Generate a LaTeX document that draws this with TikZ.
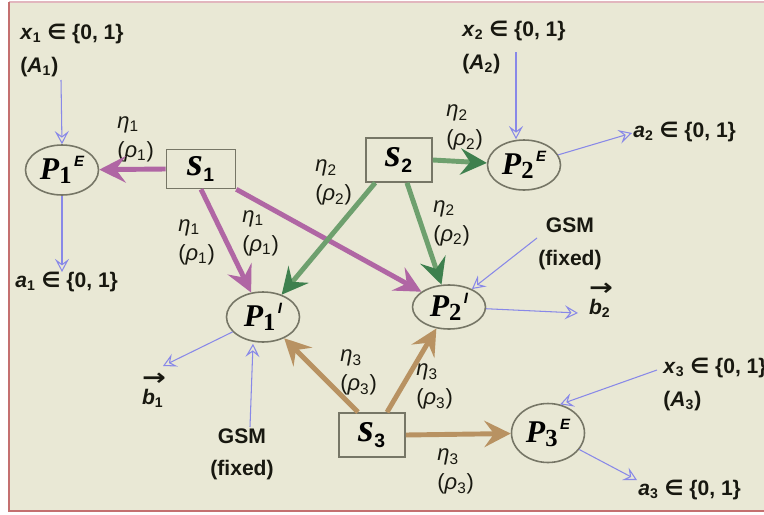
\documentclass[tikz,border=0pt]{standalone}
\usepackage{fontspec}
\setmainfont{Liberation Sans}
\newfontfamily\pfont{Liberation Serif}
\newfontfamily\dejavu{DejaVu Sans}
\usepackage{tikz}
\usetikzlibrary{shapes.geometric, arrows.meta, positioning, calc}

\definecolor{bgbeige}{RGB}{233,232,213}
\definecolor{frameline}{RGB}{196,112,112}
\definecolor{frametop}{RGB}{226,182,190}
\definecolor{sonepurple}{RGB}{176,102,164}
\definecolor{stwogreen}{RGB}{110,160,110}
\definecolor{stwodark}{RGB}{62,128,78}
\definecolor{sthreetan}{RGB}{184,146,98}
\definecolor{inblue}{RGB}{136,136,232}
\definecolor{shapeline}{RGB}{118,118,102}
\definecolor{textdark}{RGB}{24,24,16}

\newcommand{\pname}[2]{{\pfont\bfseries\itshape\fontsize{18}{18}\selectfont P}\raisebox{-2.5pt}{\pfont\bfseries\fontsize{14}{14}\selectfont #1}\raisebox{7.5pt}{\bfseries\itshape\fontsize{8.5}{8.5}\selectfont\,#2}}
\newcommand{\sname}[1]{{\pfont\bfseries\itshape\fontsize{23}{23}\selectfont s}\raisebox{-3pt}{\bfseries\fontsize{11}{11}\selectfont #1}}
\newcommand{\etarho}[1]{\textit{η}\textsubscript{#1}\\(\textit{ρ}\textsubscript{#1})}
\newcommand{\bvec}[1]{{\dejavu\bfseries\scalebox{1.35}[1.1]{→}}\\\textit{b}\textsubscript{#1}}
\newcommand{\elem}{{\dejavu ∈}}

\begin{document}
\begin{tikzpicture}[
        x=0.02cm, y=-0.02cm,
        box/.style={
            draw=shapeline,
            line width=0.9pt,
            rectangle,
            minimum width=1.32cm,
            minimum height=0.88cm,
            inner sep=0pt
        },
        pnode/.style={
            draw=shapeline,
            line width=0.9pt,
            ellipse,
            minimum width=1.46cm,
            minimum height=1.0cm,
            inner sep=0pt
        },
        lab/.style={text=textdark, inner sep=0pt, font=\fontsize{12}{18.5}\selectfont\bfseries},
        weight/.style={text=textdark, inner sep=0pt, align=left, anchor=west, font=\fontsize{12.5}{16.5}\selectfont},
        bigarrow/.style={line width=2.8pt},
        purplelink/.style={bigarrow, draw=sonepurple, -{Stealth[length=15pt, width=15pt, inset=5.5pt]}},
        greenlink/.style={bigarrow, draw=stwogreen, -{Stealth[length=15pt, width=15pt, inset=5.5pt, color=stwodark]}},
        tanlink/.style={bigarrow, draw=sthreetan, -{Stealth[length=15pt, width=15pt, inset=5.5pt]}},
        inarrow/.style={draw=inblue, line width=0.6pt, -{Stealth[open, length=7.5pt, width=8pt, inset=3pt]}}
    ]

        \useasboundingbox (0,0) rectangle (764,514);
        \fill[white] (0,0) rectangle (764,514);
        \fill[bgbeige] (9,2) rectangle (764,511);
        \draw[frametop, line width=1pt] (9,2) -- (764,2);
        \draw[frameline, line width=1.2pt] (9,2) -- (9,511) -- (764,511);

        % players and sources
        \node[pnode] (p1e) at (62,170) {\pname{1}{E}};
        \node[pnode] (p2e) at (524,165) {\pname{2}{E}};
        \node[pnode, minimum height=1.18cm] (p3e) at (548,433) {\pname{3}{E}};
        \node[pnode] (p1i) at (263,317) {\pname{1}{I}};
        \node[pnode, minimum height=0.88cm] (p2i) at (449,307) {\pname{2}{I}};

        \node[box, minimum width=1.38cm, minimum height=0.78cm] (s1) at (201,169) {\sname{1}};
        \node[box] (s2) at (399,160) {\sname{2}};
        \node[box] (s3) at (372,435) {\sname{3}};

        % inputs and outputs
        \node[lab, align=left, anchor=west] (x1lab) at (20,50.5) {\textit{x}\textsubscript{1} \elem{} \{0, 1\}\\(\textit{A}\textsubscript{1})};
        \node[lab, align=left, anchor=west] (x2lab) at (462,47.5) {\textit{x}\textsubscript{2} \elem{} \{0, 1\}\\(\textit{A}\textsubscript{2})};
        \node[lab, align=left, anchor=west] (x3lab) at (663,384.5) {\textit{x}\textsubscript{3} \elem{} \{0, 1\}\\(\textit{A}\textsubscript{3})};
        \node[lab, anchor=west] (a1lab) at (15,282) {\textit{a}\textsubscript{1} \elem{} \{0, 1\}};
        \node[lab, anchor=west] (a2lab) at (633,132) {\textit{a}\textsubscript{2} \elem{} \{0, 1\}};
        \node[lab, anchor=west] (a3lab) at (638,490) {\textit{a}\textsubscript{3} \elem{} \{0, 1\}};
        \node[lab, align=center] (gsm1) at (242,454.5) {GSM\\(fixed)};
        \node[lab, align=center] (gsm2) at (570,244) {GSM\\(fixed)};
        \node[lab, align=left, font=\fontsize{12}{11}\selectfont\bfseries] (b1lab) at (154,390) {\bvec{1}};
        \node[lab, align=left, font=\fontsize{12}{11}\selectfont\bfseries] (b2lab) at (601,300) {\bvec{2}};

        % weights
        \node[weight] (e11) at (117,139.5) {\etarho{1}};
        \node[weight] (e12) at (178,242) {\etarho{1}};
        \node[weight] (e13) at (242,233) {\etarho{1}};
        \node[weight] (e21) at (315,182.5) {\etarho{2}};
        \node[weight] (e22) at (446,127.5) {\etarho{2}};
        \node[weight] (e23) at (433,223) {\etarho{2}};
        \node[weight] (e31) at (340,372.5) {\etarho{3}};
        \node[weight] (e32) at (416,386.5) {\etarho{3}};
        \node[weight] (e33) at (437,471.5) {\etarho{3}};

        \coordinate (x1in) at (61,80);
        \coordinate (x2in) at (516,52);
        \coordinate (x3in) at (657,370);
        \coordinate (a1in) at (62,272);
        \coordinate (a2in) at (632,133);
        \coordinate (a3in) at (637,480);
        \coordinate (gsm1in) at (250,427);
        \coordinate (gsm2in) at (537,238);
        \coordinate (b1in) at (163,366);
        \coordinate (b2in) at (578,313);

        \draw[purplelink] (s1.west) -- (p1e);
        \draw[purplelink] (s1.south) -- (p1i);
        \draw[purplelink] (s1.south east) -- (p2i);
        \draw[greenlink] ($(s2.south west)+(10,0)$) -- (p1i);
        \draw[greenlink] ($(s2.south)+(8,0)$) -- (p2i);
        \draw[greenlink] (s2.east) -- (p2e);
        \draw[tanlink] ($(s3.north)+(-14,0)$) -- (p1i);
        \draw[tanlink] ($(s3.north)+(15,0)$) -- (p2i);
        \draw[tanlink] (s3.east) -- (p3e);

        \draw[inarrow] (x1in) -- (p1e.north);
        \draw[inarrow] (p1e.south) -- (a1in);
        \draw[inarrow] (x2in) -- (x2in |- p2e.north);
        \draw[inarrow] (p2e) -- (a2in);
        \draw[inarrow] (gsm2in) -- (p2i);
        \draw[inarrow] (p2i) -- (b2in);
        \draw[inarrow] (p1i) -- (b1in);
        \draw[inarrow] (gsm1in) -- ($(p1i.south)+(-10,1)$);
        \draw[inarrow] (x3in) -- (p3e.67);
        \draw[inarrow] (p3e) -- (a3in);

    \end{tikzpicture}
\end{document}
